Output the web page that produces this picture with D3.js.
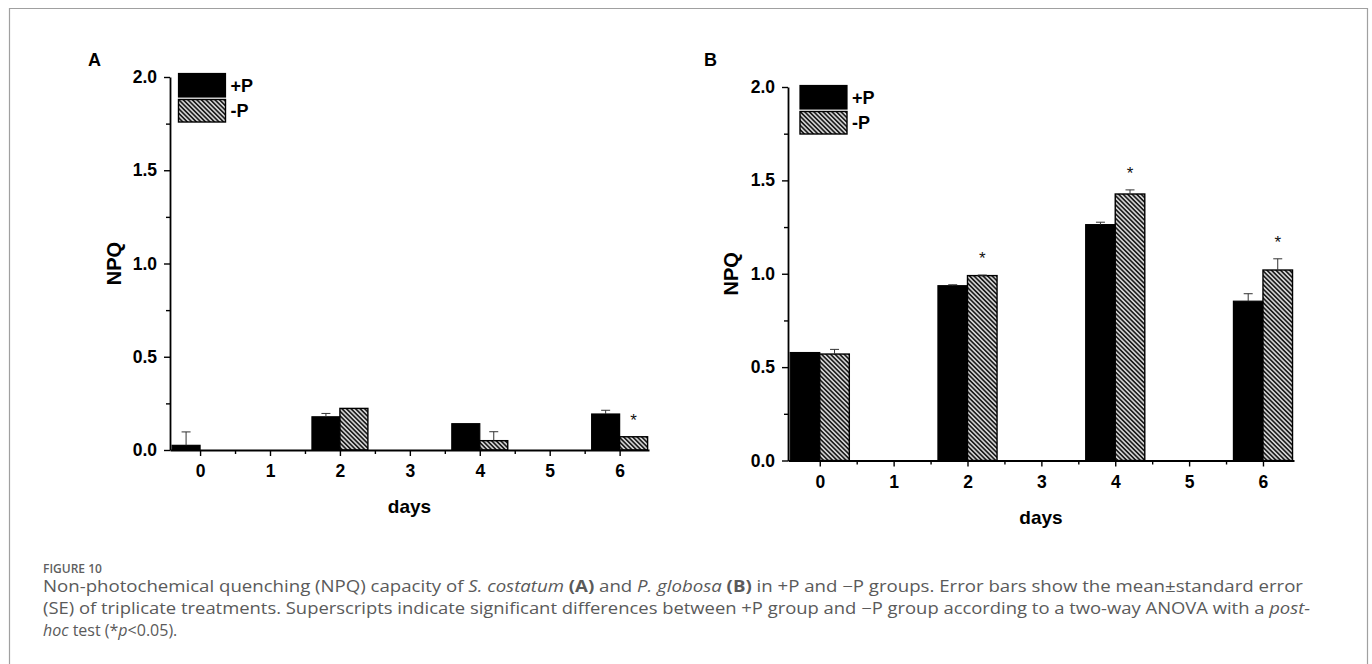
<!DOCTYPE html>
<html>
<head>
<meta charset="utf-8">
<script src="https://cdn.jsdelivr.net/npm/d3@7"></script>
<style>
  body { margin: 0; background: #fff; }
  svg { display: block; }
</style>
</head>
<body>
<svg id="fig" width="1372" height="664"></svg>
<script>
// ---- data ----
const days = [0, 1, 2, 3, 4, 5, 6];
const sampleDays = [0, 2, 4, 6];
const yTicks = [0, 0.5, 1.0, 1.5, 2.0];

// panel A: S. costatum
const aPlusP = [0.025, 0.178, 0.141, 0.193];
const aPlusPErr = [0.072, 0.018, 0, 0.02];
const aMinusP = [0, 0.223, 0.05, 0.071];
const aMinusPErr = [0, 0, 0.048, 0];
const aSig = [false, false, false, true];

// panel B: P. globosa
const bPlusP = [0.578, 0.936, 1.263, 0.853];
const bPlusPErr = [0, 0.005, 0.013, 0.04];
const bMinusP = [0.570, 0.990, 1.427, 1.020];
const bMinusPErr = [0.025, 0.003, 0.022, 0.06];
const bSig = [false, true, true, true];

const seriesNames = ["+P", "-P"];

const svg = d3.select("#fig");
const FONT = "'Liberation Sans', Arial, sans-serif";

// outer frame (no bottom edge in view)
svg.append("path")
  .attr("d", "M9.5,670V8.5H1367.5V670")
  .attr("fill", "none")
  .attr("stroke", "#a0a0a0")
  .attr("stroke-width", 1.2);

// hatch pattern for -P
const defs = svg.append("defs");
const pat = defs.append("pattern")
  .attr("id", "hatch")
  .attr("patternUnits", "userSpaceOnUse")
  .attr("width", 3.2)
  .attr("height", 3.2)
  .attr("patternTransform", "rotate(-45)");
pat.append("rect").attr("width", 3.2).attr("height", 3.2).attr("fill", "#d0d0d0");
pat.append("line")
  .attr("x1", 0.8).attr("y1", 0).attr("x2", 0.8).attr("y2", 3.2)
  .attr("stroke", "#111").attr("stroke-width", 1.5);

function drawPanel(cfg) {
  const x = d3.scaleLinear().domain([-0.43, 6.42]).range(cfg.xRange);
  const y = d3.scaleLinear().domain([0, 2]).range(cfg.yRange);
  const g = svg.append("g");

  const rows = sampleDays.map((d, i) => ({
    day: d, plus: cfg.plus[i], plusErr: cfg.plusErr[i],
    minus: cfg.minus[i], minusErr: cfg.minusErr[i], sig: cfg.sig[i]
  }));

  rows.forEach(r => {
    if (r.plus > 0) {
      g.append("rect")
        .attr("x", x(r.day - 0.4)).attr("width", x(r.day) - x(r.day - 0.4))
        .attr("y", y(r.plus)).attr("height", y(0) - y(r.plus))
        .attr("fill", "#000").attr("stroke", "#000").attr("stroke-width", 1.2);
    }
    if (r.minus > 0) {
      g.append("rect")
        .attr("x", x(r.day)).attr("width", x(r.day + 0.4) - x(r.day))
        .attr("y", y(r.minus)).attr("height", y(0) - y(r.minus))
        .attr("fill", "url(#hatch)").attr("stroke", "#000").attr("stroke-width", 1.4);
    }
    // error bars (upper half only)
    [[r.day - 0.2, r.plus, r.plusErr], [r.day + 0.2, r.minus, r.minusErr]].forEach(([cx, v, e]) => {
      if (!e) return;
      const px = x(cx);
      g.append("line").attr("x1", px).attr("x2", px)
        .attr("y1", y(v)).attr("y2", y(v + e))
        .attr("stroke", "#333").attr("stroke-width", 1);
      g.append("line").attr("x1", px - 4.5).attr("x2", px + 4.5)
        .attr("y1", y(v + e)).attr("y2", y(v + e))
        .attr("stroke", "#333").attr("stroke-width", 1);
    });
    if (r.sig) {
      const top = r.minus + r.minusErr;
      g.append("text")
        .attr("x", x(r.day + 0.2))
        .attr("y", y(top) - 20 + 9)
        .attr("text-anchor", "middle")
        .attr("font-family", FONT)
        .attr("font-size", 17)
        .attr("fill", "#111")
        .text("*");
    }
  });

  // y axis
  g.append("g")
    .attr("transform", `translate(${cfg.xRange[0]},0)`)
    .call(d3.axisLeft(y).tickValues(yTicks).tickFormat(d3.format(".1f"))
      .tickSize(6).tickSizeOuter(0).tickPadding(7));
  g.append("g")
    .attr("transform", `translate(${cfg.xRange[0]},0)`)
    .call(d3.axisLeft(y).tickValues([0.25, 0.75, 1.25, 1.75]).tickFormat("")
      .tickSize(4).tickSizeOuter(0))
    .select(".domain").remove();

  // x axis
  g.append("g")
    .attr("transform", `translate(0,${cfg.yRange[0]})`)
    .call(d3.axisBottom(x).tickValues(days).tickFormat(d3.format("d"))
      .tickSize(6).tickSizeOuter(0).tickPadding(9));
  g.append("g")
    .attr("transform", `translate(0,${cfg.yRange[0]})`)
    .call(d3.axisBottom(x).tickValues([0.5, 1.5, 2.5, 3.5, 4.5, 5.5]).tickFormat("")
      .tickSize(4).tickSizeOuter(0))
    .select(".domain").remove();

  g.selectAll(".domain").attr("stroke", "#000").attr("stroke-width", 1.8);
  g.selectAll(".tick line").attr("stroke", "#000").attr("stroke-width", 1.4);
  g.selectAll(".tick text")
    .attr("font-family", FONT).attr("font-weight", "bold")
    .attr("font-size", 17.5).attr("fill", "#000");

  // axis titles
  g.append("text")
    .attr("transform", `translate(${cfg.npqX},${(cfg.yRange[0] + cfg.yRange[1]) / 2}) rotate(-90)`)
    .attr("text-anchor", "middle")
    .attr("dy", "0.36em")
    .attr("font-family", FONT).attr("font-weight", "bold").attr("font-size", 20)
    .text("NPQ");
  g.append("text")
    .attr("x", (cfg.xRange[0] + cfg.xRange[1]) / 2)
    .attr("y", cfg.yRange[0] + 63)
    .attr("text-anchor", "middle")
    .attr("font-family", FONT).attr("font-weight", "bold").attr("font-size", 19)
    .text("days");

  // panel letter
  g.append("text")
    .attr("x", cfg.letterPos[0]).attr("y", cfg.letterPos[1])
    .attr("font-family", FONT).attr("font-weight", "bold").attr("font-size", 18)
    .text(cfg.letter);

  // legend
  const lg = g.append("g").attr("transform", `translate(${cfg.legend[0]},${cfg.legend[1]})`);
  lg.append("rect").attr("x", 0).attr("y", 0).attr("width", 47).attr("height", 23.5)
    .attr("fill", "#000").attr("stroke", "#000").attr("stroke-width", 1.2);
  lg.append("rect").attr("x", 0).attr("y", 26).attr("width", 47).attr("height", 22.5)
    .attr("fill", "url(#hatch)").attr("stroke", "#000").attr("stroke-width", 1.4);
  seriesNames.forEach((s, i) => {
    lg.append("text")
      .attr("x", 52).attr("y", 12 + i * 25.5).attr("dy", "0.36em")
      .attr("font-family", FONT).attr("font-weight", "bold").attr("font-size", 18)
      .text(s);
  });
}

drawPanel({
  letter: "A", letterPos: [88, 66],
  xRange: [170, 649], yRange: [450, 77],
  npqX: 114, legend: [178.5, 73.5],
  plus: aPlusP, plusErr: aPlusPErr, minus: aMinusP, minusErr: aMinusPErr, sig: aSig
});
drawPanel({
  letter: "B", letterPos: [704, 66],
  xRange: [788, 1294], yRange: [460.5, 87],
  npqX: 731, legend: [800, 85.5],
  plus: bPlusP, plusErr: bPlusPErr, minus: bMinusP, minusErr: bMinusPErr, sig: bSig
});

// ---- caption ----
const CAP = "'Open Sans', 'Noto Sans', sans-serif";
svg.append("text")
  .attr("x", 43).attr("y", 573)
  .attr("font-family", CAP).attr("font-weight", 600).attr("font-size", 12)
  .attr("fill", "#5f5f5f")
  .text("FIGURE 10");

const captionLines = [
  [["Non-photochemical quenching (NPQ) capacity of ", ""], ["S. costatum", "i"], [" ", ""], ["(A)", "b"],
   [" and ", ""], ["P. globosa", "i"], [" ", ""], ["(B)", "b"],
   [" in +P and \u2212P groups. Error bars show the mean\u00b1standard error", ""]],
  [["(SE) of triplicate treatments. Superscripts indicate significant differences between +P group and \u2212P group according to a two-way ANOVA with a ", ""], ["post-", "i"]],
  [["hoc", "i"], [" test (*", ""], ["p", "i"], ["<0.05).", ""]]
];
const capBase = [592, 614, 636];
const capWidth = [1260, 1267, null];
captionLines.forEach((parts, li) => {
  const t = svg.append("text")
    .attr("x", 43).attr("y", capBase[li])
    .attr("font-family", CAP).attr("font-size", 16)
    .attr("fill", "#5a5a5a");
  parts.forEach(([s, st]) => {
    t.append("tspan")
      .attr("font-style", st === "i" ? "italic" : null)
      .attr("font-weight", st === "b" ? "bold" : null)
      .text(s);
  });
  if (capWidth[li]) {
    t.attr("textLength", capWidth[li]).attr("lengthAdjust", "spacingAndGlyphs");
  }
});
</script>
</body>
</html>
